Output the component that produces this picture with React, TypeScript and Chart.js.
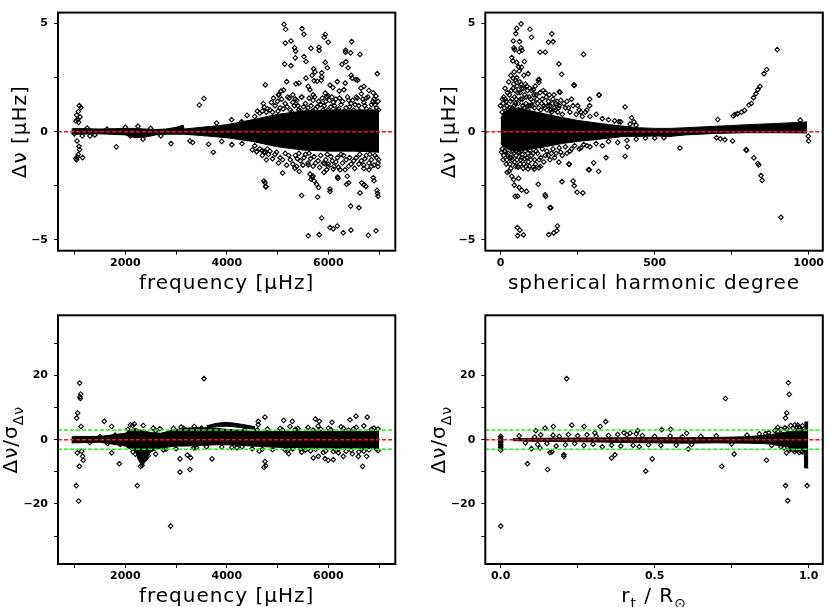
import React, { useEffect, useRef } from 'react';
import { Chart, registerables } from 'chart.js';
Chart.register(...registerables);

// ---------------- DATA ----------------
// Shared axis ticks
const FREQ_TICKS = [1000, 2000, 3000, 4000, 5000, 6000, 7000];
const FREQ_TICK_LABELS = ['', '2000', '', '4000', '', '6000', ''];
const DEG_TICKS = [0, 250, 500, 750, 1000];
const DEG_TICK_LABELS = ['0', '', '500', '', '1000'];
const RT_TICKS = [0, 0.25, 0.5, 0.75, 1.0];
const RT_TICK_LABELS = ['0.0', '', '0.5', '', '1.0'];
const DNU_TICKS = [-5, -2.5, 0, 2.5, 5];
const DNU_TICK_LABELS = ['\u22125', '', '0', '', '5'];
const SIG_TICKS = [-30, -20, -10, 0, 10, 20, 30];
const SIG_TICK_LABELS = ['', '\u221220', '', '0', '', '20', ''];
const ZERO_LINE = 0;
const SIGMA_LIMITS = [3, -3];

// Panel 1: delta nu vs frequency (dense core envelope + individual points)
const TL_BAND_X = [940, 1000, 1500, 2000, 2200, 2400, 2600, 2800, 3000, 3140, 3160, 3500, 4000, 4500, 5000, 5500, 6000, 6500, 7000];
const TL_BAND_HI = [0.12, 0.15, 0.12, 0.15, 0.15, 0.12, 0.1, 0.12, 0.2, 0.3, 0.12, 0.2, 0.32, 0.55, 0.8, 0.95, 1.0, 1.0, 1.0];
const TL_BAND_LO = [-0.1, -0.12, -0.1, -0.15, -0.28, -0.25, -0.15, -0.12, -0.12, -0.12, -0.12, -0.18, -0.28, -0.45, -0.7, -0.85, -0.9, -0.9, -0.95];
const TL_POINTS: [number, number][] = [
  [1094, 1.2], [1126, 1.11], [1074, 0.93], [1041, 0.76], [1107, 0.68], [1028, 0.49], [1080, 0.43], [1060, 0.55], [995, -0.1],
  [1048, -0.43], [1087, -0.68], [1100, -0.83], [1074, -1.05], [1159, -1.2], [1028, -1.24], [1054, -1.17], [1040, -1.3],
  [1153, -0.2], [1251, 0.16], [1304, -0.2], [1200, 0.05], [1400, -0.15], [1640, 0.12], [1823, -0.7], [2000, 0.2], [2100, -0.2],
  [2250, 0.25], [2350, -0.35], [2500, 0.15], [2700, -0.2], [2900, -0.55], [3274, -0.43], [3327, -0.5], [3458, 1.23], [3550, 1.53],
  [3642, -0.58], [3734, -0.95], [3800, 0.4], [3900, -0.45], [4095, 0.55], [4100, -0.6], [4292, 0.46], [4300, -0.55], [4400, 0.75],
  [4502, -0.84], [4588, -0.92], [4693, -0.87], [4739, 1.13], [4759, 2.16], [4732, -2.28], [4765, -2.53], [4752, -2.36],
  [4600, 0.95], [4800, -0.8], [4850, 1.0], [5021, 1.72], [5100, -1.91],
  [5126, 4.96], [5160, 4.73], [5481, 4.76], [5520, 4.5], [5152, 4.09], [5264, 4.19], [5940, 4.49], [5920, 4.36], [5999, 4.13],
  [6460, 4.16], [5337, 3.87], [5357, 3.72], [5658, 3.85], [5817, 3.9], [5820, 3.75], [5349, 3.41], [5520, 3.47], [5560, 3.24],
  [6342, 3.76], [6340, 3.67], [6440, 3.64], [6624, 3.57], [5140, 3.12], [5264, 3.05], [5940, 3.2], [5980, 2.95], [6269, 3.11],
  [6348, 3.23], [5712, 2.9], [5738, 2.76], [5680, 2.6], [5869, 2.72], [5870, 2.53], [6390, 2.95], [6450, 2.6], [6470, 2.47],
  [6545, 2.4], [6580, 2.38], [6965, 2.68], [5560, 2.47], [5180, 2.31], [5720, 2.35], [5780, 2.33], [5860, 2.37], [6033, 2.15],
  [6090, 2.04], [6177, 2.31], [6334, 2.24], [6643, 2.01], [6702, 2.09], [6887, 1.79], [6940, 1.64], [5067, 1.87], [5120, 1.92],
  [5363, 2.21], [5422, 2.24], [5022, 1.69], [5200, 1.6], [5300, 1.7], [5350, 1.5], [5480, 1.6], [5605, 2.09], [5638, 1.94],
  [5938, 1.78], [5970, 1.62], [6216, 1.88], [6308, 1.94], [6550, 1.6], [6650, 1.75], [6800, 1.9], [6150, 1.5], [6400, 1.45],
  [6750, 1.55], [6900, 1.5],
  [4550, 0.7], [4650, 0.85], [4700, 0.95], [4800, 1.05], [4900, 0.9], [4950, 1.2], [5050, 1.1], [5150, 1.3], [5250, 1.0],
  [5300, 1.35], [5400, 1.2], [5450, 0.95], [5550, 1.3], [5600, 1.1], [5700, 1.45], [5750, 1.05], [5850, 1.25], [5900, 1.0],
  [5950, 1.4], [6050, 1.15], [6100, 1.35], [6200, 1.05], [6250, 1.25], [6350, 1.1], [6450, 1.3], [6500, 1.0], [6600, 1.2],
  [6700, 1.35], [6750, 1.05], [6850, 1.25], [6950, 1.1], [6980, 1.4], [5000, 1.4], [5700, 1.7], [6000, 1.65],
  [4720, 1.3], [4780, 0.9], [4880, 1.35], [4920, 1.55], [5010, 0.95], [5080, 1.5], [5110, 1.05], [5190, 1.15], [5230, 1.55],
  [5280, 0.9], [5330, 1.2], [5380, 1.45], [5420, 1.0], [5470, 1.6], [5510, 1.15], [5580, 0.95], [5620, 1.55], [5660, 1.2],
  [5690, 0.95], [5730, 1.6], [5780, 1.15], [5810, 1.4], [5880, 1.55], [5920, 1.2], [5990, 1.0], [6020, 1.45], [6070, 1.6],
  [6120, 1.2], [6170, 1.0], [6220, 1.55], [6280, 1.4], [6320, 0.95], [6380, 1.6], [6420, 1.15], [6480, 1.45], [6530, 1.25],
  [6570, 1.55], [6620, 0.95], [6680, 1.5], [6720, 1.2], [6780, 1.6], [6820, 1.0], [6880, 1.4], [6920, 1.25], [6990, 1.0],
  [4550, -0.65], [4650, -0.8], [4750, -0.95], [4850, -0.9], [4950, -1.05], [5050, -1.2], [5150, -1.0], [5250, -1.3],
  [5350, -1.1], [5450, -1.35], [5550, -1.05], [5650, -1.25], [5750, -1.45], [5850, -1.1], [5950, -1.3], [6050, -1.15],
  [6150, -1.4], [6250, -1.05], [6350, -1.3], [6450, -1.5], [6550, -1.2], [6650, -1.35], [6750, -1.1], [6850, -1.3],
  [6950, -1.2], [6980, -1.45],
  [4700, -1.1], [4780, -1.3], [4820, -1.05], [4900, -1.25], [4980, -0.95], [5020, -1.45], [5100, -1.3], [5180, -1.55],
  [5220, -1.1], [5300, -1.5], [5390, -1.25], [5420, -1.0], [5500, -1.55], [5520, -1.2], [5600, -1.45], [5620, -1.0],
  [5700, -1.6], [5720, -1.15], [5800, -1.35], [5830, -1.65], [5900, -1.45], [5980, -1.05], [6000, -1.5], [6080, -1.35],
  [6110, -1.6], [6180, -1.2], [6200, -1.65], [6280, -1.45], [6300, -1.1], [6400, -1.6], [6420, -1.2], [6500, -1.35],
  [6520, -1.7], [6600, -1.5], [6620, -1.05], [6700, -1.7], [6720, -1.25], [6800, -1.45], [6820, -1.05], [6900, -1.55],
  [6920, -1.1], [6990, -1.3],
  [4589, -0.92], [4699, -0.88], [4738, -0.92], [4772, -2.55], [5343, -1.69], [5377, -1.61], [5428, -1.84], [5605, -1.54],
  [5640, -1.96], [5680, -2.1], [5720, -2.27], [5660, -2.2], [5700, -2.05], [5770, -2.43], [5810, -2.58], [5475, -2.95],
  [5790, -3.02], [6033, -2.65], [6033, -2.77], [6190, -2.16], [6361, -2.43], [6401, -2.36], [5869, -3.99], [5605, -4.81],
  [5822, -4.76], [6033, -4.43], [6098, -4.49], [6177, -4.36], [6295, -4.67], [6446, -4.55], [6440, -3.44], [6604, -3.51],
  [6787, -4.79], [6939, -4.58], [6624, -2.83], [6660, -2.36], [6700, -2.45], [6740, -2.53], [6887, -2.13], [6900, -2.27],
  [6960, -2.71], [6970, -2.85], [6980, -2.98], [6978, -1.61], [6800, -1.76], [5967, -1.76], [5999, -1.61], [6098, -1.73],
  [6183, -2.1], [6374, -2.06], [5914, -1.88], [5928, -1.47], [6230, -1.76], [6330, -1.76], [6700, -1.55], [6850, -1.6],
];

// Panel 2: delta nu vs spherical harmonic degree
const TR_BAND_X = [0, 10, 30, 60, 100, 150, 200, 250, 300, 350, 400, 450, 500, 550, 600, 700, 800, 900, 995];
const TR_BAND_HI = [0.6, 0.9, 1.05, 1.1, 0.95, 0.8, 0.65, 0.52, 0.42, 0.33, 0.25, 0.18, 0.15, 0.15, 0.18, 0.25, 0.32, 0.38, 0.45];
const TR_BAND_LO = [-0.55, -0.7, -0.85, -0.9, -0.8, -0.68, -0.55, -0.45, -0.38, -0.3, -0.22, -0.22, -0.2, -0.22, -0.15, -0.08, -0.05, -0.05, -0.06];
const TR_POINTS: [number, number][] = [
  [66, 4.98], [52, 4.77], [95, 4.73], [49, 4.53], [41, 4.19], [61, 4.16], [100, 4.36], [43, 3.87], [45, 3.79], [66, 3.87],
  [69, 3.76], [60, 3.69], [166, 4.52], [170, 4.16], [155, 4.13], [128, 3.67], [145, 3.67], [269, 3.57], [36, 3.42], [39, 3.27],
  [52, 3.2], [77, 3.24], [58, 3.0], [68, 2.98], [89, 2.68], [189, 3.13], [198, 2.65], [44, 2.76], [41, 2.46], [48, 2.39],
  [122, 2.39], [124, 2.27], [239, 2.13], [190, 1.84], [106, 1.94], [6, 1.5], [-1, 1.2], [319, 1.7], [289, 1.5], [289, 1.2],
  [280, 1.0], [404, 1.14], [425, 0.64], [433, 0.45], [384, 0.46], [238, 2.16], [193, 1.82], [320, 1.69],
  [898, 3.79], [864, 2.87], [855, 2.68], [842, 2.09], [835, 1.94], [829, 1.76], [821, 1.57], [814, 1.3], [806, 1.23],
  [792, 0.98], [782, 0.9], [769, 0.83], [760, 0.79], [755, 0.73], [705, 0.56], [973, 0.53], [999, -0.21], [1000, -0.43],
  [701, -0.28], [713, -0.33], [728, -0.37], [753, -0.43], [797, -0.83], [798, -0.87], [822, -1.21], [835, -1.47],
  [838, -1.54], [845, -2.03], [849, -2.25], [910, -3.96], [582, -0.76],
  [21, -1.88], [27, -1.84], [36, -2.06], [42, -2.21], [44, -2.47], [47, -2.99], [55, -2.98], [58, -2.16], [60, -2.58],
  [68, -2.7], [84, -2.76], [95, -3.42], [57, -1.64], [82, -1.61], [89, -1.72], [106, -1.64], [122, -2.43], [144, -2.92],
  [146, -2.99], [160, -3.51], [54, -4.43], [62, -4.55], [55, -4.8], [74, -4.77], [156, -4.76], [172, -4.68], [182, -4.58],
  [184, -4.36], [199, -2.31], [235, -2.28], [239, -2.5], [248, -2.8], [267, -2.83], [285, -1.76], [221, -1.5], [189, -1.41],
  [129, -1.61], [318, -1.84], [302, -1.44], [342, -1.2], [404, -1.14], [411, -0.7], [3, -0.95], [109, -1.73], [124, -1.66],
  [223, -1.51], [288, -1.76], [163, -3.51],
  [5, 0.9], [8, 1.3], [12, 1.1], [15, 1.5], [20, 1.2], [25, 1.0], [28, 1.7], [32, 1.4], [35, 1.9], [38, 1.1], [42, 2.2],
  [45, 1.6], [48, 1.3], [52, 2.5], [55, 1.8], [58, 1.0], [62, 2.3], [65, 1.5], [68, 2.0], [72, 1.2], [75, 2.6], [78, 1.7],
  [82, 1.3], [85, 2.1], [88, 1.0], [92, 1.6], [96, 1.2], [100, 1.9], [105, 1.4], [110, 1.1], [115, 1.7], [120, 1.3],
  [125, 2.4], [130, 1.0], [135, 1.5], [140, 1.2], [145, 1.8], [150, 1.0], [155, 1.4], [160, 1.2], [165, 0.9], [170, 1.5],
  [175, 1.1], [180, 1.3], [185, 0.9], [190, 1.2], [195, 1.45], [200, 0.8], [210, 1.1], [215, 1.4], [225, 0.9], [235, 1.2],
  [245, 0.8], [255, 1.0], [265, 0.7], [275, 0.9], [290, 0.7], [310, 0.8], [330, 0.6], [350, 0.55], [370, 0.5], [390, 0.45],
  [420, 0.35], [440, 0.3],
  [10, 1.6], [14, 2.0], [18, 1.4], [22, 1.8], [26, 2.3], [30, 1.1], [33, 2.6], [37, 1.5], [40, 2.0], [44, 1.2], [47, 1.9],
  [50, 1.5], [53, 2.1], [57, 1.3], [60, 2.8], [63, 1.8], [66, 2.2], [70, 1.5], [73, 2.0], [76, 1.1], [80, 2.2], [83, 1.6],
  [87, 1.9], [90, 1.2], [94, 2.0], [98, 1.5], [102, 1.2], [108, 1.7], [112, 2.1], [118, 1.5], [123, 1.1], [128, 1.8],
  [133, 1.3], [138, 1.9], [143, 1.1], [148, 1.6], [153, 1.2], [158, 1.7], [163, 1.0], [168, 1.3], [173, 1.7], [178, 1.0],
  [183, 1.4], [188, 1.1], [205, 1.3], [220, 1.1], [230, 1.5], [250, 1.2], [260, 0.9],
  [5, -0.8], [10, -1.1], [15, -0.9], [20, -1.3], [25, -1.0], [30, -1.5], [35, -1.2], [40, -0.9], [45, -1.4], [50, -1.1],
  [55, -1.6], [60, -0.95], [65, -1.3], [70, -1.05], [75, -1.5], [80, -0.9], [85, -1.2], [90, -1.4], [95, -0.85], [100, -1.1],
  [110, -1.3], [115, -0.9], [120, -1.0], [130, -1.2], [135, -0.8], [145, -1.1], [150, -0.9], [160, -1.3], [170, -0.8],
  [180, -1.0], [190, -0.75], [200, -1.1], [210, -0.7], [225, -0.9], [240, -0.65], [255, -0.8], [270, -0.6], [290, -0.7],
  [310, -0.55], [330, -0.65], [350, -0.45], [380, -0.5], [410, -0.4], [440, -0.35], [470, -0.3], [500, -0.3], [530, -0.28],
  [8, -1.3], [12, -0.9], [18, -1.5], [23, -1.1], [28, -1.2], [33, -1.7], [38, -1.3], [43, -1.0], [48, -1.6], [53, -1.3],
  [58, -1.0], [63, -1.5], [68, -1.2], [73, -1.7], [78, -1.25], [88, -1.0], [93, -1.6], [98, -1.3], [105, -1.0], [113, -1.5],
  [125, -1.3], [140, -1.4], [155, -1.1], [165, -1.0], [175, -1.2], [195, -0.95], [215, -1.0], [230, -0.8], [260, -0.75],
  [280, -0.65],
];

// Panel 3: normalised residual vs frequency
const BL_BAND_X = [940, 1000, 1500, 2000, 2100, 2200, 2250, 2300, 2350, 2400, 2500, 2700, 3000, 3200, 3500, 3800, 4000, 4500, 5000, 5500, 6000, 6500, 7000];
const BL_BAND_HI = [0.8, 1.0, 1.0, 2.0, 3.0, 3.5, 3.2, 3.0, 2.8, 2.6, 2.2, 2.0, 3.2, 3.6, 3.8, 3.5, 3.2, 2.6, 2.6, 2.6, 2.6, 2.6, 2.6];
const BL_BAND_LO = [-1.0, -1.0, -0.8, -2.0, -3.0, -3.6, -6.0, -7.5, -8.0, -6.5, -3.8, -2.6, -2.0, -2.0, -1.8, -1.6, -1.6, -2.0, -2.4, -2.5, -2.6, -2.6, -2.6];
const BL_STREAK_X = [3600, 3800, 4000, 4200, 4400, 4560];
const BL_STREAK_HI = [4.3, 5.1, 5.4, 5.0, 4.5, 4.0];
const BL_STREAK_LO = [3.6, 4.0, 4.2, 3.9, 3.5, 3.2];
const BL_POINTS: [number, number][] = [
  [1100, 17.6], [1120, 14.2], [1107, 13.3], [1115, 12.8], [1061, 8.3], [1041, 6.7], [1126, 4.1], [1034, -14.3], [1080, -19.1],
  [1094, -8.3], [1054, -4.1], [1159, -5.2], [1172, -6.4], [1140, -3.6], [1586, 5.7], [1731, 4.1], [1731, -4.1], [1882, -7.5],
  [2236, -14.3], [3550, 19.0], [2893, -26.9], [3077, -10.1], [3274, -9.3], [3077, -6.0], [3222, -4.8], [3287, -5.6],
  [3708, -6.0], [4732, -8.6], [4765, -8.1], [4752, -6.8], [4640, -3.6], [4752, 7.0], [4620, 5.7], [4620, 4.7], [5120, 6.0],
  [5291, 5.7], [5218, -4.4], [5474, -3.9], [5744, 6.4], [5823, 5.7], [5704, -5.7], [5803, -5.2], [5934, -5.9], [5999, -6.4],
  [6098, -6.2], [6072, 5.4], [6427, 6.2], [6545, 7.3], [6768, 7.0], [6676, -8.3], [6591, -5.2], [6755, -5.2], [6473, -4.4],
  [6295, -5.2], [6197, -4.1], [5245, 4.1], [2355, 4.4], [2177, 4.9], [2144, 4.4], [2683, 3.4], [3360, 4.1], [2100, 4.6],
  [5050, 3.5], [5150, -3.2], [5350, 3.2], [5450, -3.0], [5600, 3.8], [5650, -3.5], [5800, 4.2], [5900, -4.0], [6000, 3.6],
  [6150, -3.4], [6250, 4.0], [6350, -3.6], [6500, 3.4], [6600, -3.8], [6700, 4.3], [6800, -3.2], [6900, 3.6], [6950, -3.0],
  [4800, 3.3], [4900, -3.1], [5700, 3.0], [6200, -3.0], [6400, 3.0], [6650, -3.0],
  [1300, -0.9], [1500, 0.9], [1650, -1.2], [1800, 1.4], [1900, -1.5], [2400, -6.0], [2450, -5.0], [2300, -8.3], [2330, -8.0],
  [2200, -4.5], [2600, -4.5], [2550, 3.6], [2800, -3.0], [2950, 3.5], [3100, 3.9], [3400, -2.5], [3600, -2.2], [3900, -2.3],
  [4200, -2.5], [4350, 3.0], [4500, -2.8],
  [2050, 3.2], [2150, -3.8], [2600, 2.8], [2750, -3.2], [3000, -2.8], [3150, 3.5], [3350, -2.6], [3500, 3.6], [4100, -2.4],
  [4300, -2.2], [4600, 3.0], [4700, -3.0], [5100, 3.0], [5200, -3.4], [5300, -2.9], [5400, 3.5], [5550, -3.2], [5750, -3.0],
  [5850, 3.3], [5950, -3.5], [6050, 3.1], [6100, -3.7], [6300, 3.5], [6450, -3.3], [6550, 3.8], [6700, -3.6], [6850, 3.2],
  [6980, -3.4], [6980, 3.3],
];

// Panel 4: normalised residual vs turning point radius
const BR_BAND_X = [0.04, 0.1, 0.2, 0.3, 0.4, 0.5, 0.6, 0.7, 0.8, 0.85, 0.88, 0.9, 0.93, 0.96, 0.985, 0.988, 0.999];
const BR_BAND_HI = [0.3, 0.4, 0.5, 0.5, 0.6, 0.6, 0.6, 0.7, 0.9, 1.3, 1.6, 2.0, 2.4, 2.8, 3.2, 5.5, 5.5];
const BR_BAND_LO = [-0.3, -0.5, -0.6, -0.7, -0.9, -1.0, -1.1, -1.0, -1.1, -1.2, -1.4, -1.8, -2.2, -2.8, -3.2, -8.8, -8.8];
const BR_POINTS: [number, number][] = [
  [0, 1.0], [0, 0.5], [0, 0.0], [0, -0.5], [0, -1.0], [0, -1.5], [0, -2.0], [0, -2.5], [0, -3.3], [0, -26.9],
  [0.087, -7.5], [0.152, -9.3], [0.214, 19.0], [0.114, 2.8], [0.144, 3.6], [0.171, 4.1], [0.231, 4.5], [0.271, 4.1],
  [0.341, 5.6], [0.323, 4.1], [0.306, 2.1], [0.36, -5.7], [0.371, -4.7], [0.205, -4.7], [0.205, -5.2], [0.166, -3.8],
  [0.16, -4.0], [0.128, -2.6], [0.1, -2.8], [0.471, -9.8], [0.492, -6.0], [0.445, 2.8], [0.523, 3.1], [0.552, 3.2],
  [0.604, 2.0], [0.609, -2.9], [0.718, -8.3], [0.73, 12.8], [0.758, -4.5], [0.863, -6.4], [0.925, -14.3], [0.932, -19.0],
  [0.934, 17.7], [0.937, 14.1], [0.929, 8.3], [0.925, 6.7], [0.928, -4.1], [0.938, -3.3], [0.995, -14.3], [0.942, 4.4],
  [0.955, 4.6], [0.923, 3.7], [0.9, 3.8],
  [0.06, 1.2], [0.08, -1.0], [0.11, 0.8], [0.12, -1.5], [0.13, 1.5], [0.15, -1.2], [0.17, 1.4], [0.18, -2.0], [0.19, 1.0],
  [0.21, -1.6], [0.22, 1.6], [0.24, -1.2], [0.25, 1.2], [0.27, -1.8], [0.28, 1.5], [0.3, -1.4], [0.31, 1.1], [0.33, -2.2],
  [0.35, 1.3], [0.36, -1.7], [0.38, 1.6], [0.39, -2.0], [0.4, 2.2], [0.41, 1.5], [0.42, 2.0], [0.43, -1.8], [0.44, 1.8],
  [0.45, -2.2], [0.46, 1.3], [0.48, -1.6], [0.5, 1.0], [0.52, -1.8], [0.55, 1.1], [0.57, -1.7], [0.59, 0.9], [0.62, -1.5],
  [0.65, 1.0], [0.7, 1.2], [0.75, -1.3], [0.8, 1.4], [0.84, 1.8], [0.87, 2.2], [0.89, 2.8], [0.91, 3.2], [0.92, -2.6],
  [0.95, -3.3], [0.97, 4.0], [0.97, -4.0], [0.96, 3.9],
  [0.86, 1.9], [0.88, -1.8], [0.9, 2.6], [0.91, -2.3], [0.93, 3.3], [0.94, -2.8], [0.95, 3.6], [0.96, -3.2], [0.97, 3.5],
  [0.975, -3.6], [0.98, 4.3], [0.98, -3.8], [0.965, 4.5], [0.955, -3.7],
];

// ---------------- RENDERING ----------------
type Part = { t: string; sub?: boolean };
type Band = { x: number[]; hi: number[]; lo: number[] };
type Panel = {
  box: { left: number; top: number; width: number; height: number };
  area: { left: number; right: number; top: number; bottom: number };
  x: { min: number; max: number; ticks: number[]; labels: string[] };
  y: { min: number; max: number; ticks: number[]; labels: string[] };
  bands: Band[];
  points: [number, number][];
  green: boolean;
  xTitle: Part[];
  yTitle: Part[];
  yTitleBaseX: number;
};

const FONT = '"DejaVu Sans", Verdana, sans-serif';
const TITLE_SIZE = 20;

function richWidth(ctx: CanvasRenderingContext2D, parts: Part[], size: number) {
  let w = 0;
  for (const p of parts) {
    ctx.font = `${p.sub ? Math.round(size * 0.68) : size}px ${FONT}`;
    w += ctx.measureText(p.t).width;
  }
  return w;
}
function drawRich(ctx: CanvasRenderingContext2D, parts: Part[], x0: number, base: number, size: number) {
  let x = x0;
  for (const p of parts) {
    ctx.font = `${p.sub ? Math.round(size * 0.68) : size}px ${FONT}`;
    ctx.fillText(p.t, x, base + (p.sub ? size * 0.3 : 0));
    x += ctx.measureText(p.t).width;
  }
}

function framePlugin(p: Panel) {
  return {
    id: 'frameTitles',
    afterDraw(chart: any) {
      const ctx: CanvasRenderingContext2D = chart.ctx;
      const a = chart.chartArea;
      ctx.save();
      ctx.strokeStyle = '#000';
      ctx.lineWidth = 2;
      ctx.strokeRect(a.left, a.top, a.right - a.left, a.bottom - a.top);
      ctx.fillStyle = '#000';
      ctx.textBaseline = 'alphabetic';
      ctx.textAlign = 'left';
      try { (ctx as any).letterSpacing = '1px'; } catch (e) {}
      const wx = richWidth(ctx, p.xTitle, TITLE_SIZE);
      drawRich(ctx, p.xTitle, (a.left + a.right) / 2 - wx / 2, a.bottom + 38, TITLE_SIZE);
      const wy = richWidth(ctx, p.yTitle, TITLE_SIZE);
      ctx.translate(p.yTitleBaseX, (a.top + a.bottom) / 2);
      ctx.rotate(-Math.PI / 2);
      drawRich(ctx, p.yTitle, -wy / 2, 0, TITLE_SIZE);
      ctx.restore();
    },
  };
}

function buildConfig(p: Panel): any {
  const datasets: any[] = [];
  p.bands.forEach((b) => {
    datasets.push({
      data: b.x.map((x, i) => ({ x, y: b.hi[i] })),
      borderColor: '#000', borderWidth: 1, backgroundColor: '#000', pointRadius: 0, fill: '+1', order: 3, tension: 0,
    });
    datasets.push({
      data: b.x.map((x, i) => ({ x, y: b.lo[i] })),
      borderColor: '#000', borderWidth: 1, pointRadius: 0, fill: false, order: 3, tension: 0,
    });
  });
  datasets.push({
    data: p.points.map(([x, y]) => ({ x, y })),
    showLine: false, pointStyle: 'rectRot', pointRadius: 2.3, pointBorderWidth: 1.1,
    pointBorderColor: '#000', pointBackgroundColor: 'rgba(255,255,255,0)', order: 2,
  });
  datasets.push({
    data: [{ x: p.x.min, y: ZERO_LINE }, { x: p.x.max, y: ZERO_LINE }],
    borderColor: '#ff1010', borderWidth: 1.5, borderDash: [4, 2], pointRadius: 0, fill: false, order: 0,
  });
  if (p.green) {
    SIGMA_LIMITS.forEach((v) => {
      datasets.push({
        data: [{ x: p.x.min, y: v }, { x: p.x.max, y: v }],
        borderColor: '#22ee22', borderWidth: 1.5, borderDash: [4, 2], pointRadius: 0, fill: false, order: 1,
      });
    });
  }
  const tickFont = { family: FONT, size: 11, weight: 'bold' };
  return {
    type: 'line',
    data: { datasets },
    options: {
      responsive: false,
      animation: false,
      events: [],
      layout: { padding: { left: 0, top: p.area.top, right: p.box.width - p.area.right, bottom: 0 } },
      plugins: { legend: { display: false }, tooltip: { enabled: false } },
      scales: {
        x: {
          type: 'linear', min: p.x.min, max: p.x.max,
          afterBuildTicks: (s: any) => { s.ticks = p.x.ticks.map((v) => ({ value: v })); },
          afterFit: (s: any) => { s.height = p.box.height - p.area.bottom; },
          ticks: { autoSkip: false, maxRotation: 0, padding: 2, color: '#000', font: tickFont, callback: (_v: any, i: number) => p.x.labels[i] },
          grid: { drawOnChartArea: false, drawTicks: true, tickLength: 4, color: '#000', lineWidth: 1 },
          border: { display: false },
        },
        y: {
          type: 'linear', min: p.y.min, max: p.y.max,
          afterBuildTicks: (s: any) => { s.ticks = p.y.ticks.map((v) => ({ value: v })); },
          afterFit: (s: any) => { s.width = p.area.left; },
          ticks: { autoSkip: false, padding: 6, color: '#000', font: tickFont, callback: (_v: any, i: number) => p.y.labels[i] },
          grid: { drawOnChartArea: false, drawTicks: true, tickLength: 4, color: '#000', lineWidth: 1 },
          border: { display: false },
        },
      },
    },
    plugins: [framePlugin(p)],
  };
}

const band = (x: number[], hi: number[], lo: number[]): Band => ({ x, hi, lo });

const PANELS: Panel[] = [
  {
    box: { left: 0, top: 0, width: 415, height: 300 },
    area: { left: 58, right: 395.3, top: 3.3, bottom: 250.7 },
    x: { min: 674, max: 7320, ticks: FREQ_TICKS, labels: FREQ_TICK_LABELS },
    y: { min: -5.5, max: 5.5, ticks: DNU_TICKS, labels: DNU_TICK_LABELS },
    bands: [band(TL_BAND_X, TL_BAND_HI, TL_BAND_LO)],
    points: TL_POINTS, green: false,
    xTitle: [{ t: 'frequency [\u03bcHz]' }],
    yTitle: [{ t: '\u0394\u03bd [\u03bcHz]' }],
    yTitleBaseX: 26,
  },
  {
    box: { left: 415, top: 0, width: 415, height: 300 },
    area: { left: 70.3, right: 407.8, top: 3.3, bottom: 250.7 },
    x: { min: -50, max: 1046, ticks: DEG_TICKS, labels: DEG_TICK_LABELS },
    y: { min: -5.5, max: 5.5, ticks: DNU_TICKS, labels: DNU_TICK_LABELS },
    bands: [band(TR_BAND_X, TR_BAND_HI, TR_BAND_LO)],
    points: TR_POINTS, green: false,
    xTitle: [{ t: 'spherical harmonic degree' }],
    yTitle: [{ t: '\u0394\u03bd [\u03bcHz]' }],
    yTitleBaseX: 40,
  },
  {
    box: { left: 0, top: 300, width: 415, height: 307 },
    area: { left: 58, right: 395.3, top: 15.3, bottom: 264 },
    x: { min: 674, max: 7320, ticks: FREQ_TICKS, labels: FREQ_TICK_LABELS },
    y: { min: -38.7, max: 38.7, ticks: SIG_TICKS, labels: SIG_TICK_LABELS },
    bands: [band(BL_BAND_X, BL_BAND_HI, BL_BAND_LO), band(BL_STREAK_X, BL_STREAK_HI, BL_STREAK_LO)],
    points: BL_POINTS, green: true,
    xTitle: [{ t: 'frequency [\u03bcHz]' }],
    yTitle: [{ t: '\u0394\u03bd/\u03c3' }, { t: '\u0394\u03bd', sub: true }],
    yTitleBaseX: 17,
  },
  {
    box: { left: 415, top: 300, width: 415, height: 307 },
    area: { left: 70.3, right: 407.8, top: 15.3, bottom: 264 },
    x: { min: -0.05, max: 1.046, ticks: RT_TICKS, labels: RT_TICK_LABELS },
    y: { min: -38.7, max: 38.7, ticks: SIG_TICKS, labels: SIG_TICK_LABELS },
    bands: [band(BR_BAND_X, BR_BAND_HI, BR_BAND_LO)],
    points: BR_POINTS, green: true,
    xTitle: [{ t: 'r' }, { t: 't', sub: true }, { t: ' / R' }, { t: '\u2299', sub: true }],
    yTitle: [{ t: '\u0394\u03bd/\u03c3' }, { t: '\u0394\u03bd', sub: true }],
    yTitleBaseX: 30,
  },
];

function PanelChart({ p }: { p: Panel }) {
  const ref = useRef<HTMLCanvasElement | null>(null);
  useEffect(() => {
    if (!ref.current) return;
    const chart = new Chart(ref.current, buildConfig(p));
    return () => chart.destroy();
  }, [p]);
  return (
    <canvas
      ref={ref}
      width={p.box.width}
      height={p.box.height}
      style={{ position: 'absolute', left: p.box.left, top: p.box.top, width: p.box.width, height: p.box.height }}
    />
  );
}

export default function App() {
  return (
    <div style={{ position: 'absolute', left: 0, top: 0, width: 830, height: 607, background: '#fff', overflow: 'hidden' }}>
      {PANELS.map((p, i) => (
        <PanelChart key={i} p={p} />
      ))}
    </div>
  );
}
